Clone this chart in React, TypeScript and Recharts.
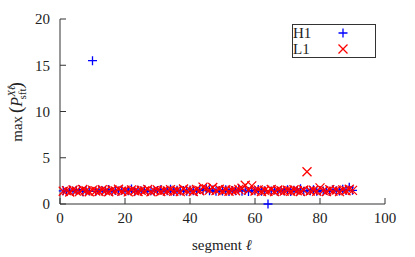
import React from 'react';
import {
  ScatterChart, Scatter, XAxis, YAxis, Legend, Customized,
} from 'recharts';

// segment index 1..90
const SEGMENTS = Array.from({ length: 90 }, (_, i) => i + 1);

const H1 = [
  1.42, 1.35, 1.51, 1.38, 1.46, 1.55, 1.33, 1.47, 1.40, 15.5,
  1.36, 1.52, 1.44, 1.39, 1.58, 1.34, 1.45, 1.41, 1.50, 1.37,
  1.43, 1.62, 1.35, 1.48, 1.40, 1.53, 1.36, 1.44, 1.39, 1.47,
  1.55, 1.38, 1.42, 1.60, 1.34, 1.49, 1.41, 1.45, 1.37, 1.52,
  1.44, 1.39, 1.57, 1.48, 1.66, 1.43, 1.51, 1.38, 1.46, 1.40,
  1.54, 1.36, 1.45, 1.42, 1.61, 1.39, 1.50, 1.35, 1.47, 1.43,
  1.58, 1.37, 1.44, 0.0, 1.41, 1.52, 1.38, 1.46, 1.40, 1.55,
  1.36, 1.49, 1.43, 1.64, 1.39, 1.47, 1.42, 1.53, 1.37, 1.45,
  1.41, 1.50, 1.38, 1.56, 1.44, 1.40, 1.59, 1.46, 1.82, 1.48,
];

const L1 = [
  1.38, 1.45, 1.30, 1.52, 1.41, 1.34, 1.57, 1.43, 1.32, 1.50,
  1.40, 1.35, 1.54, 1.44, 1.33, 1.51, 1.42, 1.60, 1.37, 1.48,
  1.31, 1.53, 1.44, 1.36, 1.49, 1.40, 1.58, 1.33, 1.45, 1.52,
  1.35, 1.47, 1.41, 1.55, 1.37, 1.49, 1.34, 1.62, 1.42, 1.50,
  1.36, 1.57, 1.44, 1.82, 1.64, 1.50, 1.78, 1.45, 1.60, 1.39,
  1.54, 1.37, 1.49, 1.43, 1.58, 1.70, 2.02, 1.48, 1.96, 1.40,
  1.53, 1.36, 1.48, 1.38, 1.56, 1.34, 1.51, 1.43, 1.39, 1.49,
  1.37, 1.54, 1.44, 1.35, 1.52, 3.48, 1.40, 1.48, 1.38, 1.74,
  1.45, 1.36, 1.55, 1.39, 1.50, 1.34, 1.53, 1.44, 1.60, 1.47,
];

const X_TICKS = [0, 20, 40, 60, 80, 100];
const Y_TICKS = [0, 5, 10, 15, 20];

const h1Data = SEGMENTS.map((s, i) => ({ seg: s, val: H1[i] }));
const l1Data = SEGMENTS.map((s, i) => ({ seg: s, val: L1[i] }));

const BLUE = '#0000ff';
const RED = '#ff0000';
const AXIS = '#333';
const FONT = '"Liberation Serif", "DejaVu Serif", serif';

const PlusMark = (p: any) => (
  <path d={`M${p.cx - 4.5},${p.cy}h9M${p.cx},${p.cy - 4.5}v9`} stroke={BLUE} strokeWidth={1.3} fill="none" />
);
const CrossMark = (p: any) => (
  <path d={`M${p.cx - 4.5},${p.cy - 4.5}l9,9M${p.cx - 4.5},${p.cy + 4.5}l9,-9`} stroke={RED} strokeWidth={1.3} fill="none" />
);

function LegendBox() {
  return (
    <div style={{
      width: 84, height: 34, boxSizing: 'border-box', border: `1px solid ${AXIS}`,
      background: '#fff', position: 'relative', fontFamily: FONT, fontSize: 15, color: '#222',
    }}>
      <span style={{ position: 'absolute', left: 0, top: 0, lineHeight: '16px' }}>H1</span>
      <span style={{ position: 'absolute', left: 0, top: 16, lineHeight: '16px' }}>L1</span>
      <svg width={84} height={34} style={{ position: 'absolute', left: -1, top: -1 }}>
        <PlusMark cx={51} cy={9} />
        <CrossMark cx={51} cy={25} />
      </svg>
    </div>
  );
}

function AxisTitles() {
  return (
    <g fontFamily={FONT} fill="#222">
      <text x={222} y={250} textAnchor="middle" fontSize={15}>
        segment <tspan fontStyle="italic">ℓ</tspan>
      </text>
      <text transform="translate(22,112) rotate(-90)" textAnchor="middle" fontSize={15}>
        max
        <tspan dx={3} fontSize={19}>(</tspan>
        <tspan fontStyle="italic" fontSize={16}>P</tspan>
        <tspan dy={-7} fontSize={11} fontStyle="italic">Xℓ</tspan>
        <tspan dx={-14} dy={11} fontSize={11}>sft</tspan>
        <tspan dy={-4} fontSize={19}>)</tspan>
      </text>
    </g>
  );
}

export default function App() {
  return (
    <div style={{ position: 'fixed', left: 0, top: 0, background: '#fff' }}>
      <ScatterChart width={415} height={257} margin={{ top: 19, right: 30, bottom: 0, left: 0 }}>
        <XAxis
          xAxisId="b" type="number" dataKey="seg" domain={[0, 100]} ticks={X_TICKS}
          height={53} tickSize={-6} tickMargin={14} stroke={AXIS}
          tick={{ fill: '#222', fontFamily: FONT, fontSize: 15 }}
        />
        <XAxis
          xAxisId="t" type="number" dataKey="seg" orientation="top" domain={[0, 100]}
          ticks={X_TICKS} height={0} tickSize={-6} tick={false} stroke={AXIS}
        />
        <YAxis
          yAxisId="l" type="number" dataKey="val" domain={[0, 20]} ticks={Y_TICKS}
          width={60} tickSize={-6} tickMargin={16} stroke={AXIS}
          tick={{ fill: '#222', fontFamily: FONT, fontSize: 15 }}
        />
        <YAxis
          yAxisId="r" type="number" dataKey="val" orientation="right" domain={[0, 20]}
          ticks={Y_TICKS} width={0} tickSize={-6} tick={false} stroke={AXIS}
        />
        <Scatter name="H1" data={h1Data} xAxisId="b" yAxisId="l" shape={PlusMark} isAnimationActive={false} />
        <Scatter name="L1" data={l1Data} xAxisId="b" yAxisId="l" shape={CrossMark} isAnimationActive={false} />
        <Legend
          layout="vertical" align="center" verticalAlign="middle"
          content={() => <LegendBox />}
          wrapperStyle={{ position: 'absolute', left: 292, top: 24, width: 84, height: 34 }}
        />
        <Customized component={AxisTitles} />
      </ScatterChart>
    </div>
  );
}
